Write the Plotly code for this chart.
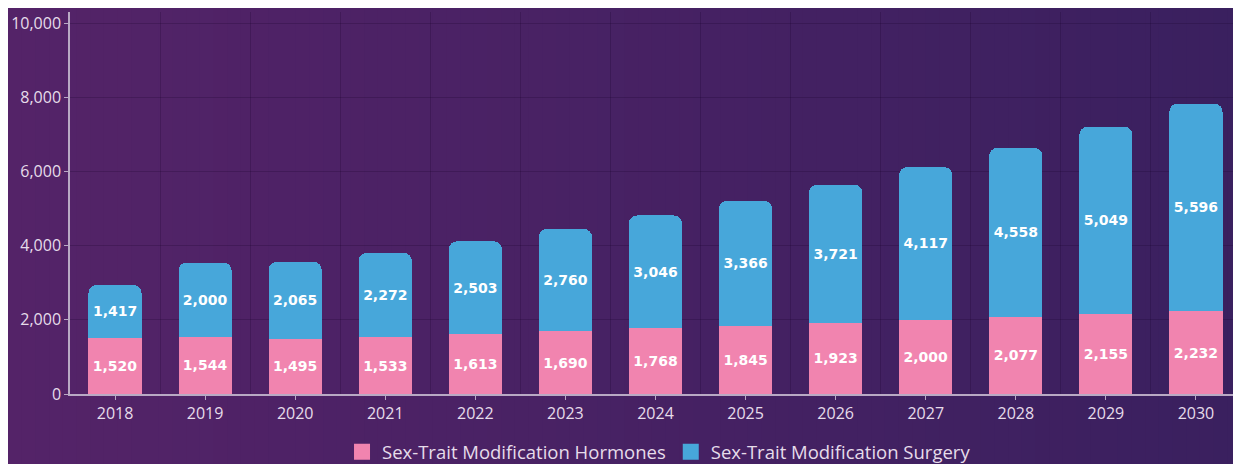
import plotly.graph_objects as go

years = ["2018", "2019", "2020", "2021", "2022", "2023", "2024",
         "2025", "2026", "2027", "2028", "2029", "2030"]
hormones = [1520, 1544, 1495, 1533, 1613, 1690, 1768, 1845, 1923, 2000, 2077, 2155, 2232]
surgery = [1417, 2000, 2065, 2272, 2503, 2760, 3046, 3366, 3721, 4117, 4558, 5049, 5596]
series_names = ["Sex-Trait Modification Hormones", "Sex-Trait Modification Surgery"]
y_ticks = [0, 2000, 4000, 6000, 8000, 10000]

PINK = "#f184af"
BLUE = "#47a7da"
xs = list(range(len(years)))

fig = go.Figure()
for name, vals, col in [(series_names[0], hormones, PINK), (series_names[1], surgery, BLUE)]:
    fig.add_trace(go.Bar(
        x=xs, y=vals, name=name, showlegend=False,
        marker=dict(color=col, line=dict(width=0)),
        texttemplate="%{y:,}", textposition="inside", insidetextanchor="middle",
        textangle=0,
        textfont=dict(family="DejaVu Sans", size=14, color="white", weight="bold"),
        hoverinfo="skip",
    ))
# legend entries with larger square swatches
for name, col in [(series_names[0], PINK), (series_names[1], BLUE)]:
    fig.add_trace(go.Scatter(
        x=[None], y=[None], mode="markers", name=name,
        marker=dict(symbol="square", size=18, color=col), hoverinfo="skip",
    ))

# page shows the figure offset by 8px, so size/margins compensate
W, H = 1233, 456
ml, mr, mt, mb = 62, 0, 4, 70
pw, ph = W - ml - mr, H - mt - mb
c0 = (84, 35, 104)
c1 = (58, 32, 95)
N = 90
x_start = -ml / pw
x_end = 1 + mr / pw
shapes = []
for i in range(N):
    t = i / (N - 1)
    c = tuple(round(c0[k] + (c1[k] - c0[k]) * t) for k in range(3))
    a = x_start + (x_end - x_start) * i / N
    b = x_start + (x_end - x_start) * (i + 1) / N + 0.002
    shapes.append(dict(type="rect", xref="paper", yref="paper", x0=a, x1=b,
                       y0=-1, y1=2,
                       fillcolor="rgb(%d,%d,%d)" % c, line=dict(width=0), layer="below"))

GRID = "rgba(25,0,40,0.22)"
AX = "#b9a9c4"
TXT = "#e6dcea"

fig.update_layout(
    width=W, height=H,
    margin=dict(l=ml, r=mr, t=mt, b=mb, autoexpand=False),
    barmode="stack", bargap=0.41, barcornerradius=8,
    paper_bgcolor="rgb(72,34,100)", plot_bgcolor="rgba(0,0,0,0)",
    shapes=shapes,
    font=dict(family="Open Sans", color=TXT, size=16),
    legend=dict(orientation="h", x=0.503, xanchor="center",
                yref="container", y=0.026, yanchor="middle",
                bgcolor="rgba(0,0,0,0)",
                font=dict(size=18.5, color=TXT), traceorder="normal",
                itemsizing="trace"),
    xaxis=dict(range=[-0.5, len(years) - 0.5], tickvals=xs, ticktext=years,
               showgrid=False, zeroline=False, showline=True, linecolor=AX,
               linewidth=1.5, ticks="outside", ticklen=4, tickcolor=AX,
               tickfont=dict(size=16, color=TXT), automargin=False,
               minor=dict(tick0=0.5, dtick=1, showgrid=True,
                          gridcolor=GRID, gridwidth=1, ticks="")),
    yaxis=dict(range=[0, 10300], tickvals=y_ticks, tickformat=",",
               showgrid=True, gridcolor=GRID, gridwidth=1,
               zeroline=False, showline=True, linecolor=AX, linewidth=1.5,
               ticks="outside", ticklen=4, tickcolor=AX, automargin=False,
               tickfont=dict(size=16, color=TXT)),
)

fig.write_html("out.html")
